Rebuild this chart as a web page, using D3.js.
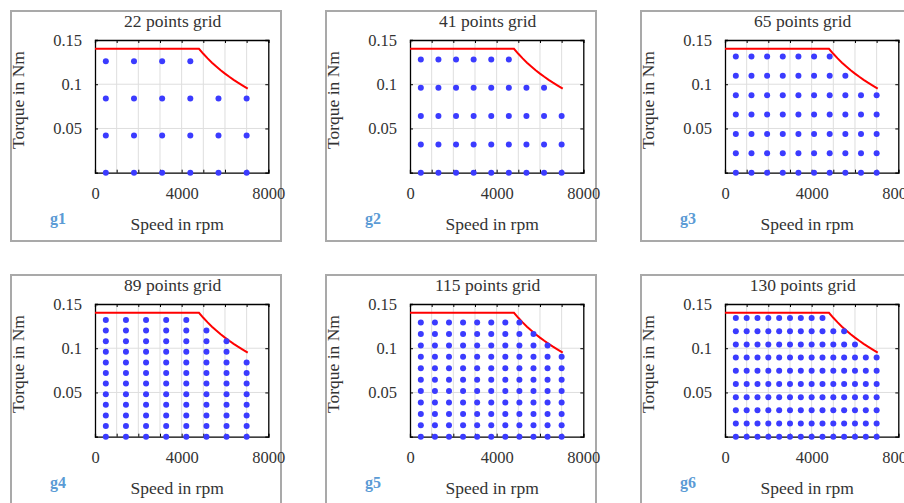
<!DOCTYPE html>
<html><head><meta charset="utf-8">
<script src="https://cdn.jsdelivr.net/npm/d3@7"></script>
<style>
html,body{margin:0;padding:0;background:#fff;overflow:hidden}
svg text{font-family:"Liberation Serif","Times New Roman",serif !important}
</style>
</head><body>
<svg id="chart" width="904" height="503"></svg>
<script>
// ---- data ----
const titles = ["22 points grid","41 points grid","65 points grid","89 points grid","115 points grid","130 points grid"];
const tags = ["g1","g2","g3","g4","g5","g6"];

const speedsG1 = [500,1800,3100,4400,5700,7000];
const torquesG1 = [0,0.042,0.084,0.126];
const countsG1 = [4,4,4,4,3,3];

const speedsG2 = [500,1312.5,2125,2937.5,3750,4562.5,5375,6187.5,7000];
const torquesG2 = [0,0.032,0.064,0.096,0.128];
const countsG2 = [5,5,5,5,5,5,4,4,3];

const speedsG3 = [500,1222,1944,2667,3389,4111,4833,5556,6278,7000];
const torquesG3 = [0,0.0219,0.0438,0.0657,0.0876,0.1095,0.1314];
const countsG3 = [7,7,7,7,7,7,7,6,5,5];

const speedsG4 = [500,1429,2357,3286,4214,5143,6071,7000];
const torquesG4 = [0,0.012,0.024,0.036,0.048,0.06,0.072,0.084,0.096,0.108,0.12,0.132];
const countsG4 = [12,12,12,12,12,11,10,8];

const speedsG5 = [500,1150,1800,2450,3100,3750,4400,5050,5700,6350,7000];
const torquesG5 = [0,0.0129,0.0258,0.0387,0.0516,0.0645,0.0774,0.0903,0.1032,0.1161,0.129];
const countsG5 = [11,11,11,11,11,11,11,11,10,9,8];

const speedsG6 = [500,1000,1500,2000,2500,3000,3500,4000,4500,5000,5500,6000,6500,7000];
const torquesG6 = [0,0.0149,0.0298,0.0447,0.0596,0.0745,0.0894,0.1043,0.1192,0.1341];
const countsG6 = [10,10,10,10,10,10,10,10,10,9,9,8,7,7];

const limitSpeed  = [0,4800,5000,5200,5400,5600,5800,6000,6200,6400,6600,6800,7050];
const limitTorque = [0.14,0.14,0.1344,0.1292,0.1244,0.12,0.1159,0.112,0.1084,0.105,0.1018,0.0988,0.095];

const xTicks = [0,1000,2000,3000,4000,5000,6000,7000,8000];
const xTickLabels = ["0","","","","4000","","","","8000"];
const yTicks = [0.05,0.1,0.15];
const yTickLabels = ["0.05","0.1","0.15"];
const xLabel = "Speed in rpm";
const yLabel = "Torque in Nm";

const grids = [
  [speedsG1,torquesG1,countsG1],[speedsG2,torquesG2,countsG2],[speedsG3,torquesG3,countsG3],
  [speedsG4,torquesG4,countsG4],[speedsG5,torquesG5,countsG5],[speedsG6,torquesG6,countsG6]
];

// ---- drawing ----
const svg = d3.select("#chart");
const font = "Liberation Serif";
const textCol = "#333333";

grids.forEach((g, i) => {
  const ox = (i % 3) * 315, oy = Math.floor(i / 3) * 264;
  const L = 95, R = 268.3, T = 40, B = 172.7;
  const p = svg.append("g").attr("transform", `translate(${ox},${oy})`);

  p.append("rect").attr("x",11).attr("y",11).attr("width",270).attr("height",230)
    .attr("fill","none").attr("stroke","#a9a9a9").attr("stroke-width",2);

  const x = d3.scaleLinear().domain([0,8000]).range([L,R]);
  const y = d3.scaleLinear().domain([0,0.15]).range([B,T]);

  // grid
  p.append("g").selectAll("line").data(xTicks.slice(1,-1)).join("line")
    .attr("x1",d=>x(d)).attr("x2",d=>x(d)).attr("y1",T).attr("y2",B)
    .attr("stroke","#dedede").attr("stroke-width",1);
  p.append("g").selectAll("line").data(yTicks.slice(0,-1)).join("line")
    .attr("y1",d=>y(d)).attr("y2",d=>y(d)).attr("x1",L).attr("x2",R)
    .attr("stroke","#dedede").attr("stroke-width",1);

  // axes (inward ticks, box)
  const xb = d3.axisBottom(x).tickValues(xTicks).tickSize(-3).tickPadding(15)
    .tickFormat((d,k)=>xTickLabels[k]);
  const xt = d3.axisTop(x).tickValues(xTicks).tickSize(-3).tickFormat("");
  const yl = d3.axisLeft(y).tickValues(yTicks).tickSize(-3).tickPadding(13)
    .tickFormat((d,k)=>yTickLabels[k]);
  const yr = d3.axisRight(y).tickValues(yTicks).tickSize(-3).tickFormat("");
  [[xb,`translate(0,${B})`],[xt,`translate(0,${T})`],[yl,`translate(${L},0)`],[yr,`translate(${R},0)`]]
    .forEach(([ax,tr]) => {
      const a = p.append("g").attr("transform",tr).call(ax)
        .attr("font-family",font).attr("font-size",16.5);
      a.select(".domain").attr("stroke","#000").attr("stroke-width",1.3);
      a.selectAll(".tick line").attr("stroke","#000").attr("stroke-width",1);
      a.selectAll("text").attr("fill",textCol);
    });

  // limit curve
  const line = d3.line().x((d,k)=>x(limitSpeed[k])).y(d=>y(d));
  p.append("path").datum(limitTorque).attr("d",line)
    .attr("fill","none").attr("stroke","#ff0000").attr("stroke-width",2);

  // grid points
  const [sp, tq, cn] = g;
  const pts = [];
  sp.forEach((s,c) => { for (let r = 0; r < cn[c]; r++) pts.push([s, tq[r]]); });
  p.append("g").selectAll("circle").data(pts).join("circle")
    .attr("cx",d=>x(d[0])).attr("cy",d=>y(d[1])).attr("r",3)
    .attr("fill","#3b3bff");

  // texts
  p.append("text").attr("x",(L+R)/2-9).attr("y",27).attr("text-anchor","middle")
    .attr("font-family",font).attr("font-size",17.5).attr("fill",textCol).text(titles[i]);
  p.append("text").attr("x",(L+R)/2-4.5).attr("y",230).attr("text-anchor","middle")
    .attr("font-family",font).attr("font-size",17.5).attr("fill",textCol).text(xLabel);
  p.append("text").attr("transform",`translate(24,100) rotate(-90)`).attr("text-anchor","middle")
    .attr("font-family",font).attr("font-size",17.5).attr("fill",textCol).text(yLabel);
  p.append("text").attr("x",50).attr("y",224)
    .attr("font-family",font).attr("font-size",16).attr("font-weight","bold")
    .attr("fill","#5b9bd5").text(tags[i]);
});
</script>
</body></html>
